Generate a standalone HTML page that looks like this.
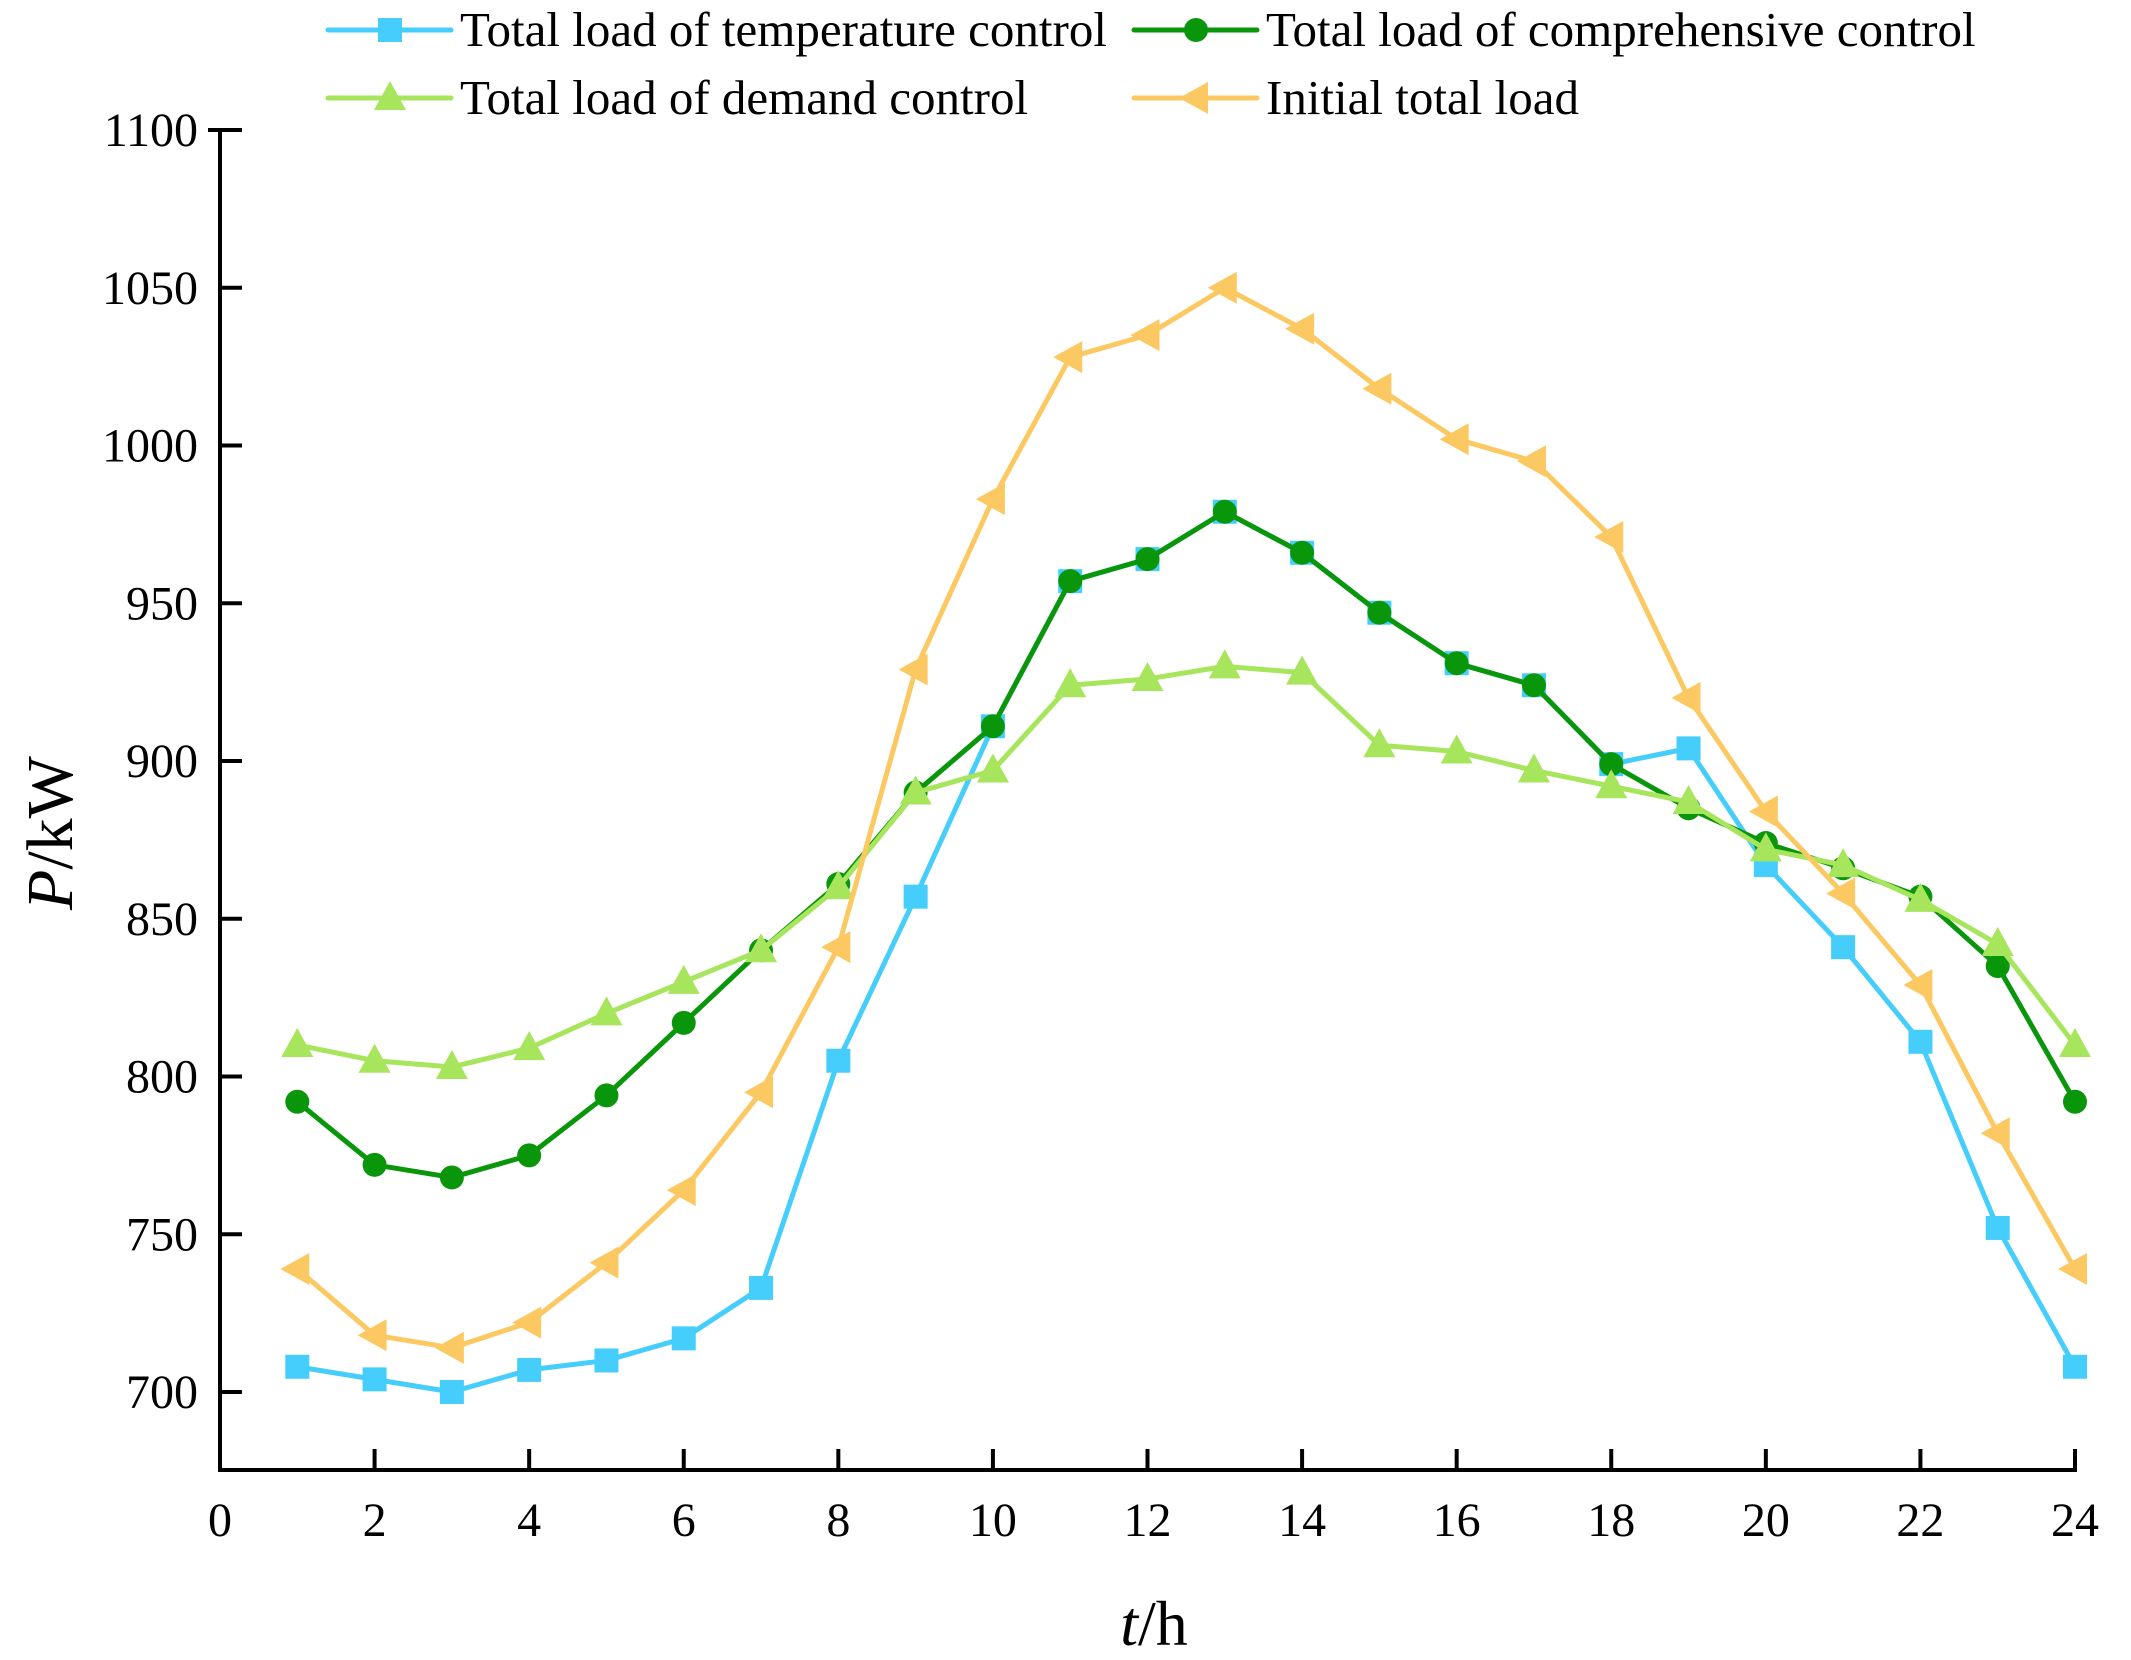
<!DOCTYPE html>
<html><head><meta charset="utf-8"><style>
html,body{margin:0;padding:0;background:#fff;}
svg{display:block;font-family:"Liberation Serif",serif;}
</style></head><body>
<svg id="chart" width="2131" height="1660" viewBox="0 0 2131 1660" xmlns="http://www.w3.org/2000/svg">
<g id="axes"></g>
<g id="series"></g>
<g id="legend"></g>
<text x="72" y="833" font-size="66" text-anchor="middle" transform="rotate(-90 72 833)"><tspan font-style="italic">P</tspan>/kW</text>
<text x="1154" y="1645" font-size="64" text-anchor="middle"><tspan font-style="italic">t</tspan>/h</text>
</svg>
<script>
const hours=[1,2,3,4,5,6,7,8,9,10,11,12,13,14,15,16,17,18,19,20,21,22,23,24];
const tempControl=[708,704,700,707,710,717,733,805,857,911,957,964,979,966,947,931,924,899,904,867,841,811,752,708];
const compControl=[792,772,768,775,794,817,840,861,890,911,957,964,979,966,947,931,924,899,885,874,866,857,835,792];
const demandControl=[810,805,803,809,820,830,840,860,890,897,924,926,930,928,905,903,897,892,887,872,867,856,842,810];
const initialLoad=[739,718,714,722,741,764,795,841,929,983,1028,1035,1050,1037,1018,1002,995,971,920,884,858,829,782,739];
const xTicks=[0,2,4,6,8,10,12,14,16,18,20,22,24];
const yTicks=[700,750,800,850,900,950,1000,1050,1100];

const NS="http://www.w3.org/2000/svg";
const X0=220,X1=2086,Y700=1392,Y1100=130,YB=1477;
function xs(v){return X0+(X1-11-X0)*v/24;}
function ys(v){return Y700+(Y1100-Y700)*(v-700)/400;}
function mk(tag,attrs,parent){const e=document.createElementNS(NS,tag);for(const k in attrs)e.setAttribute(k,attrs[k]);parent.appendChild(e);return e;}

const axes=document.getElementById('axes');
const YBa=YB-7;
let l=mk('line',{x1:X0,y1:Y1100-2,x2:X0,y2:YBa+2,stroke:'#000','stroke-width':4},axes);


l=mk('line',{x1:X0-2,y1:YBa,x2:xs(24)+2,y2:YBa,stroke:'#000','stroke-width':4},axes);


yTicks.forEach(v=>{
  const t=mk('line',{x1:X0-(v===1100?12:0),y1:ys(v),x2:X0+22,y2:ys(v),stroke:'#000','stroke-width':4},axes);
  
  
  const tx=mk('text',{x:198,y:ys(v)+16,'font-size':48,'text-anchor':'end'},axes);
  tx.textContent=v;
  
  
});
xTicks.forEach(v=>{
  if(v>0){const t=mk('line',{x1:xs(v),y1:YBa,x2:xs(v),y2:YBa-21,stroke:'#000','stroke-width':4},axes);
  
  }
  const tx=mk('text',{x:xs(v),y:1536,'font-size':48,'text-anchor':'middle'},axes);
  tx.textContent=v;
  
  
});

function marker(type,x,y,color,g){
  let e;
  if(type==='square')e=mk('rect',{x:x-12,y:y-12,width:24,height:24,fill:color},g);
  else if(type==='circle')e=mk('circle',{cx:x,cy:y,r:12,fill:color},g);
  else if(type==='tri')e=mk('polygon',{points:`${x},${y-17} ${x-16},${y+12} ${x+16},${y+12}`,fill:color},g);
  else e=mk('polygon',{points:`${x-17},${y} ${x+12},${y-16} ${x+12},${y+16}`,fill:color},g);
  return e;
}
const seriesList=[
  {name:'temperature',data:tempControl,color:'#45cdfc',m:'square',label:'Total load of temperature control',lx:328,ly:30},
  {name:'comprehensive',data:compControl,color:'#0a960a',m:'circle',label:'Total load of comprehensive control',lx:1134,ly:30},
  {name:'demand',data:demandControl,color:'#a6e55c',m:'tri',label:'Total load of demand control',lx:328,ly:98},
  {name:'initial',data:initialLoad,color:'#fbc862',m:'left',label:'Initial total load',lx:1134,ly:98}
];
const sg=document.getElementById('series'),lg=document.getElementById('legend');
seriesList.forEach(s=>{
  const g=mk('g',{},sg);
  
  
  const p=mk('polyline',{points:s.data.map((v,i)=>xs(hours[i])+','+ys(v)).join(' '),fill:'none',stroke:s.color,'stroke-width':5,'stroke-linejoin':'round'},g);
  
  
  s.data.forEach((v,i)=>{
    const m=marker(s.m,xs(hours[i]),ys(v),s.color,g);
    
    
  });
  const e=mk('g',{},lg);
  
  
  mk('line',{x1:s.lx,y1:s.ly,x2:s.lx+123,y2:s.ly,stroke:s.color,'stroke-width':5,'stroke-linecap':'round'},e);
  marker(s.m,s.lx+62,s.ly,s.color,e);
  const t=mk('text',{x:s.lx+132,y:s.ly+16,'font-size':49},e);
  t.textContent=s.label;
});
</script>
</body></html>
